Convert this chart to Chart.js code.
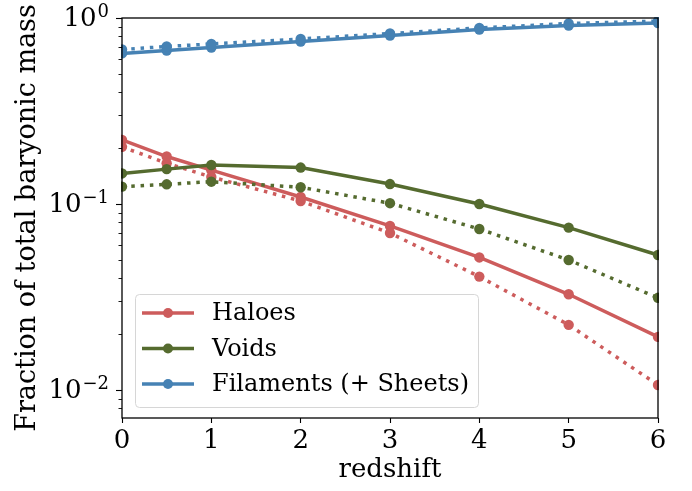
<!DOCTYPE html>
<html>
<head>
<meta charset="utf-8">
<script src="https://cdn.jsdelivr.net/npm/chart.js@4.4.0/dist/chart.umd.min.js"></script>
<style>
  body { margin: 0; background: #fff; }
  canvas { display: block; }
</style>
</head>
<body>
<canvas id="massChart" width="692" height="491"></canvas>
<script>
// redshift sample points
const redshifts = [0, 0.5, 1, 2, 3, 4, 5, 6];

// solid lines
const haloes = [0.221, 0.180, 0.152, 0.109, 0.0762, 0.0516, 0.0327, 0.0193];
const voids = [0.146, 0.154, 0.162, 0.157, 0.128, 0.100, 0.0746, 0.0532];
const filaments = [0.645, 0.669, 0.694, 0.748, 0.805, 0.867, 0.911, 0.940];

// dotted lines
const haloesDotted = [0.203, 0.1655, 0.1397, 0.1038, 0.0698, 0.0407, 0.0224, 0.01064];
const voidsDotted = [0.124, 0.1276, 0.1318, 0.123, 0.101, 0.0734, 0.050, 0.0313];
const filamentsDotted = [0.677, 0.703, 0.725, 0.771, 0.825, 0.884, 0.934, 0.963];

// axis ticks
const xTicks = [0, 1, 2, 3, 4, 5, 6];
const yMajorTicks = [0.01, 0.1, 1];
const yTickExponents = ['\u22122', '\u22121', '0'];
const yMinorTicks = [0.008, 0.009, 0.02, 0.03, 0.04, 0.05, 0.06, 0.07, 0.08, 0.09,
                     0.2, 0.3, 0.4, 0.5, 0.6, 0.7, 0.8, 0.9];

const RED = '#cd5c5c';
const GREEN = '#556b2f';
const BLUE = '#4682b4';
const FONT = "'DejaVu Serif', serif";

function makeSet(label, values, color, dotted, order) {
    return {
        label: label,
        data: redshifts.map((z, i) => ({ x: z, y: values[i] })),
        borderColor: color,
        backgroundColor: color,
        pointBackgroundColor: color,
        pointBorderWidth: 0,
        pointRadius: 5.2,
        borderWidth: 3.5,
        borderDash: dotted ? [3.5, 5.8] : [],
        borderCapStyle: 'butt',
        fill: false,
        tension: 0,
        clip: 1,
        order: order,
        inLegend: !dotted
    };
}

// frame, y ticks / labels and the legend box inside the plot
const decorations = {
    id: 'decorations',
    afterDraw(chart) {
        const c = chart.ctx;
        const a = chart.chartArea;
        const y = chart.scales.y;

        c.save();
        c.strokeStyle = '#000';
        c.lineWidth = 1.3;
        c.strokeRect(a.left, a.top, a.right - a.left, a.bottom - a.top);

        // y ticks
        c.lineWidth = 1.1;
        yMajorTicks.forEach(v => {
            const py = Math.round(y.getPixelForValue(v)) + 0.5;
            c.beginPath(); c.moveTo(a.left - 6, py); c.lineTo(a.left, py); c.stroke();
        });
        c.lineWidth = 0.9;
        yMinorTicks.forEach(v => {
            const py = Math.round(y.getPixelForValue(v)) + 0.5;
            c.beginPath(); c.moveTo(a.left - 3.5, py); c.lineTo(a.left, py); c.stroke();
        });

        // y labels 10^n
        c.fillStyle = '#000';
        c.textBaseline = 'middle';
        c.textAlign = 'right';
        yMajorTicks.forEach((v, i) => {
            const py = y.getPixelForValue(v);
            const right = a.left - 13;
            c.font = '18px ' + FONT;
            c.fillText(yTickExponents[i], right, py - 6);
            const w = c.measureText(yTickExponents[i]).width;
            c.font = '26px ' + FONT;
            c.fillText('10', right - w - 1, py + 1);
        });

        // legend
        const items = chart.data.datasets.filter(d => d.inLegend);
        const bx = 135, by = 294, bw = 343, bh = 113;
        c.beginPath();
        c.roundRect(bx + 0.5, by + 0.5, bw, bh, 4);
        c.fillStyle = 'rgba(255,255,255,0.8)';
        c.fill();
        c.strokeStyle = '#d6d6d6';
        c.lineWidth = 1;
        c.stroke();
        c.textAlign = 'left';
        c.font = '24px ' + FONT;
        items.forEach((d, i) => {
            const ly = 313 + i * 35.5;
            c.strokeStyle = d.borderColor;
            c.lineWidth = 3.5;
            c.beginPath(); c.moveTo(142, ly); c.lineTo(194, ly); c.stroke();
            c.fillStyle = d.borderColor;
            c.beginPath(); c.arc(168, ly, 5, 0, Math.PI * 2); c.fill();
            c.fillStyle = '#000';
            c.fillText(d.label, 212, ly + 1);
        });
        c.restore();
    }
};

const ctx = document.getElementById('massChart').getContext('2d');
const massChart = new Chart(ctx, {
    type: 'line',
    data: {
        datasets: [
            makeSet('Haloes', haloes, RED, false, 6),
            makeSet('Haloes', haloesDotted, RED, true, 5),
            makeSet('Voids', voids, GREEN, false, 4),
            makeSet('Voids', voidsDotted, GREEN, true, 3),
            makeSet('Filaments (+ Sheets)', filaments, BLUE, false, 2),
            makeSet('Filaments (+ Sheets)', filamentsDotted, BLUE, true, 1)
        ]
    },
    options: {
        responsive: false,
        animation: false,
        layout: { padding: { top: 18, right: 34, left: 0, bottom: 0 } },
        plugins: {
            legend: { display: false },
            tooltip: { enabled: false }
        },
        scales: {
            x: {
                type: 'linear',
                min: 0,
                max: 6,
                afterBuildTicks: s => { s.ticks = xTicks.map(v => ({ value: v })); },
                afterFit: s => { s.height = 73; },
                grid: { drawOnChartArea: false, drawTicks: true, tickLength: 5, color: '#000', tickWidth: 1.1 },
                border: { display: false },
                ticks: { color: '#000', padding: 3, font: { family: FONT, size: 26 }, maxRotation: 0 },
                title: { display: true, text: 'redshift', color: '#000', font: { family: FONT, size: 26 }, padding: { top: 0, bottom: 5 } }
            },
            y: {
                type: 'logarithmic',
                min: 0.00707,
                max: 1,
                afterFit: s => { s.width = 122; },
                grid: { display: false },
                border: { display: false },
                ticks: { display: false },
                title: { display: true, text: 'Fraction of total baryonic mass', color: '#000', font: { family: FONT, size: 27 }, padding: { top: 12, bottom: 0 } }
            }
        }
    },
    plugins: [decorations]
});
</script>
</body>
</html>
